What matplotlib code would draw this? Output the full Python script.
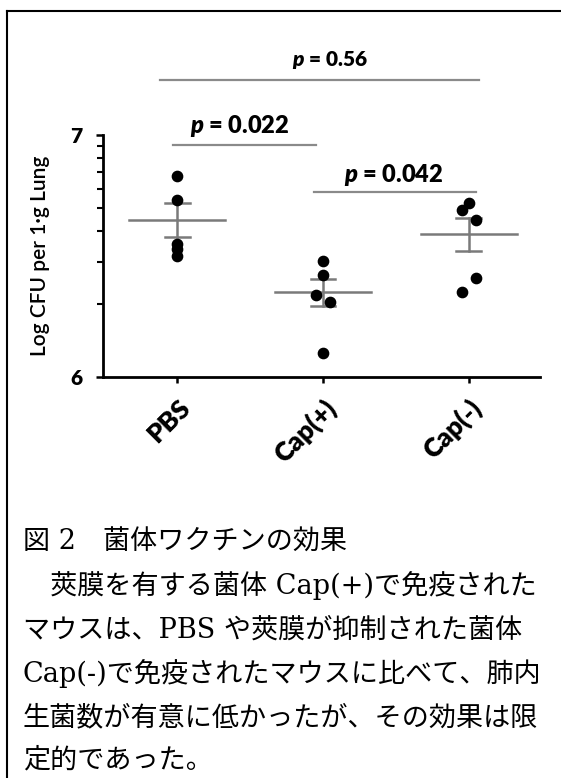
import numpy as np
import matplotlib
matplotlib.use("Agg")
import matplotlib.pyplot as plt
from matplotlib.lines import Line2D
from matplotlib.transforms import ScaledTranslation

plt.rcParams['font.family'] = ['Lato', 'DejaVu Sans']
plt.rcParams['mathtext.fontset'] = 'custom'
plt.rcParams['mathtext.it'] = 'Lato:italic:heavy'
plt.rcParams['mathtext.rm'] = 'Lato:heavy'

# ---- data ----
groups = ["PBS", "Cap(+)", "Cap(-)"]
pbs_vals = [6.83, 6.73, 6.55, 6.53, 6.50]
capp_vals = [6.48, 6.42, 6.34, 6.31, 6.10]
capm_vals = [6.72, 6.69, 6.65, 6.41, 6.35]
group_means = [6.65, 6.35, 6.59]
group_sems = [0.07, 0.057, 0.068]
pvalue_labels = ["p = 0.022", "p = 0.042", "p = 0.56"]
pvalue_pairs = [(0, 1), (1, 2), (0, 2)]
ylabel = "Log CFU per 1·g Lung"
caption_lines = [
    "図 2　菌体ワクチンの効果",
    "　莢膜を有する菌体 Cap(+)で免疫された",
    "マウスは、PBS や莢膜が抑制された菌体",
    "Cap(-)で免疫されたマウスに比べて、肺内",
    "生菌数が有意に低かったが、その効果は限",
    "定的であった。",
]

# ---- layout / style ----
W, H = 561, 778
fig = plt.figure(figsize=(W / 100, H / 100), dpi=100)
ax = fig.add_axes([103 / W, 1 - 377 / H, (540 - 103) / W, (377 - 135) / H])

jitter = [[0, 0, 0, 0, 0],
          [0, 0, -0.05, 0.05, 0],
          [0, -0.045, 0.05, 0.05, -0.045]]
all_vals = [pbs_vals, capp_vals, capm_vals]

gray = '#7a7a7a'
for i, vals in enumerate(all_vals):
    xs = [i + j for j in jitter[i]]
    ax.plot(xs, vals, 'o', color='black', markersize=7.4, zorder=3, clip_on=False)
    m, s = group_means[i], group_sems[i]
    ax.plot([i - 0.33, i + 0.33], [m, m], color=gray, lw=1.8, zorder=2)
    ax.plot([i, i], [m - s, m + s], color=gray, lw=1.8, zorder=2)
    for yy in (m - s, m + s):
        ax.plot([i - 0.085, i + 0.085], [yy, yy], color=gray, lw=1.8, zorder=2)

# significance lines
sig_y = [6.96, 6.763, 7.229]
sig_x = [(-0.03, 0.953), (0.94, 2.05), (-0.12, 2.07)]
txt_pos = [(0.426, 7.039), (1.483, 6.834), (1.048, 7.308)]
txt_size = [17, 17, 15]
for k, lab in enumerate(pvalue_labels):
    x0, x1 = sig_x[k]
    ax.plot([x0, x1], [sig_y[k], sig_y[k]], color='#8a8a8a', lw=1.6, clip_on=False)
    tx, ty = txt_pos[k]
    ax.text(tx, ty, lab.replace("p", "$p$", 1), ha='center', va='center',
            fontsize=txt_size[k], fontweight='heavy', clip_on=False)

ax.set_xlim(-0.51, 2.49)
ax.set_ylim(6, 7)
ax.set_xticks(range(len(groups)))
ax.set_xticklabels(groups, rotation=45, ha='right', va='top',
                   rotation_mode='anchor', fontsize=19, fontweight='heavy')
off = ScaledTranslation(-5 / 100, -6 / 100, fig.dpi_scale_trans)
for lab in ax.get_xticklabels():
    lab.set_transform(lab.get_transform() + off)
ax.set_yticks([6, 7])
ax.set_yticklabels(["6", "7"], fontsize=15, fontweight='heavy')
ax.set_yticks([6 + np.log10(k) for k in range(2, 10)], minor=True)
ax.tick_params(axis='y', which='major', length=5, width=1.8, pad=10)
ax.tick_params(axis='y', which='minor', length=4, width=1.5)
ax.tick_params(axis='x', which='major', length=4, width=1.8, pad=9)
ax.set_ylabel(ylabel, fontsize=15, fontweight='semibold', labelpad=14)
for sp in ['top', 'right']:
    ax.spines[sp].set_visible(False)
ax.spines['left'].set_linewidth(2)
ax.spines['bottom'].set_linewidth(2)
ax.patch.set_alpha(0)

# border
bx, by = 7 / W, 1 - 11 / H
fig.add_artist(Line2D([bx, bx], [0, by], transform=fig.transFigure, color='black', lw=1.5))
fig.add_artist(Line2D([bx, 1], [by, by], transform=fig.transFigure, color='black', lw=1.5))

# caption
cap_y = [542, 586, 630, 674, 718, 760]
for line, yy in zip(caption_lines, cap_y):
    fig.text(23 / W, 1 - yy / H, line, ha='left', va='center', fontsize=19.5,
             family=['DejaVu Serif', 'Noto Sans CJK JP'])

fig.savefig("out.png", dpi=100)
